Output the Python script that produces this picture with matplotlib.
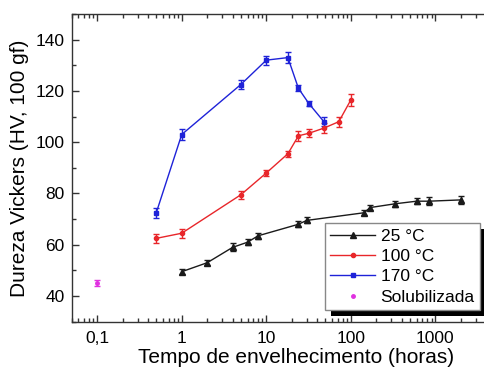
import matplotlib
matplotlib.use("Agg")
import matplotlib.pyplot as plt
from matplotlib.patches import Rectangle
from matplotlib.lines import Line2D
from matplotlib.ticker import LogLocator, FixedLocator, MultipleLocator

plt.rcParams['font.family'] = ['Liberation Sans', 'DejaVu Sans']

# Data
t25 = [1, 2, 4, 6, 8, 24, 30, 144, 168, 336, 600, 840, 2000]
v25 = [49.5, 53, 59, 61, 63.5, 68, 69.5, 72.5, 74.5, 76, 77, 77, 77.5]
e25 = [1.0, 1.0, 1.5, 1.2, 1.2, 1.2, 1.2, 1.0, 1.0, 1.2, 1.2, 1.5, 1.5]

t100 = [0.5, 1, 5, 10, 18, 24, 32, 48, 72, 100]
v100 = [62.5, 64.5, 79.5, 88, 95.5, 102.5, 103.5, 105.5, 108, 116.5]
e100 = [1.8, 1.8, 1.6, 1.2, 1.2, 2.0, 1.5, 2.0, 2.0, 2.2]

t170 = [0.5, 1, 5, 10, 18, 24, 32, 48]
v170 = [72.5, 103, 122.5, 132, 133, 121, 115, 108]
e170 = [2.0, 2.0, 1.8, 1.8, 2.2, 1.2, 1.0, 1.8]

t_sol = [0.1]
v_sol = [45]
e_sol = [1.2]

labels = ['25 °C', '100 °C', '170 °C', 'Solubilizada']
xticks = [0.1, 1, 10, 100, 1000]
xticklabels = ['0,1', '1', '10', '100', '1000']

W, H = 484, 369
fig = plt.figure(figsize=(W / 100, H / 100), dpi=100)
left_px, right_px, top_px, bot_px = 71.7, 520.0, 14.0, 321.7
ax = fig.add_axes([left_px / W, (H - bot_px) / H, (right_px - left_px) / W, (bot_px - top_px) / H])

c25, c100, c170, csol = '#1a1a1a', '#e8262a', '#1e22d8', '#e030e0'
m25, m100, m170, msol = '^', 'o', 's', 'o'
ms25, ms100, ms170, mssol = 4, 3, 3, 2.5
kw = dict(capsize=2.5, elinewidth=1.0, capthick=1.0, linewidth=1.0)
ax.errorbar(t25, v25, yerr=e25, color=c25, marker=m25, markersize=ms25, **kw)
ax.errorbar(t100, v100, yerr=e100, color=c100, marker=m100, markersize=ms100, **kw)
ax.errorbar(t170, v170, yerr=e170, color=c170, marker=m170, markersize=ms170, **kw)
ax.errorbar(t_sol, v_sol, yerr=e_sol, color=csol, marker=msol, markersize=mssol, linestyle='none', **kw)

ax.set_xscale('log')
ax.set_xlim(0.05, 10000)
ax.set_ylim(30, 150)
ax.xaxis.set_major_locator(FixedLocator(xticks))
ax.set_xticklabels(xticklabels)
ax.xaxis.set_minor_locator(LogLocator(base=10, subs=range(2, 10), numticks=20))
ax.yaxis.set_major_locator(MultipleLocator(20))
ax.yaxis.set_minor_locator(MultipleLocator(10))
ax.tick_params(which='both', direction='in', top=True, right=True, labelsize=12.5, width=1.0, color='#333333')
ax.tick_params(which='major', length=5)
ax.tick_params(which='minor', length=3)
ax.tick_params(axis='x', pad=7)
ax.tick_params(axis='y', pad=5)
for s in ax.spines.values():
    s.set_linewidth(1.0)
    s.set_color('#333333')

ax.set_xlabel('Tempo de envelhecimento (horas)', fontsize=15, labelpad=1)
ax.set_ylabel('Dureza Vickers (HV, 100 gf)', fontsize=15, labelpad=5)

handles = [
    Line2D([], [], color=c25, marker=m25, markersize=ms25, linewidth=1.0),
    Line2D([], [], color=c100, marker=m100, markersize=ms100, linewidth=1.0),
    Line2D([], [], color=c170, marker=m170, markersize=ms170, linewidth=1.0),
    Line2D([], [], color=csol, marker=msol, markersize=mssol, linestyle='none'),
]
leg = fig.legend(handles, labels, loc='lower right',
                 bbox_to_anchor=(480 / W, (H - 310) / H), bbox_transform=fig.transFigure,
                 fontsize=12.5, frameon=True, fancybox=False, framealpha=1,
                 edgecolor='#888888', handlelength=2.6, handletextpad=0.3,
                 labelspacing=0.3, borderpad=0.3, borderaxespad=0)
leg.get_frame().set_linewidth(1.0)
leg.set_zorder(10)

fig.canvas.draw()
bb = leg.get_window_extent()
inv = fig.transFigure.inverted()
(x0, y0), (x1, y1) = inv.transform([[bb.x0, bb.y0], [bb.x1, bb.y1]])
dx, dy = 6 / W, 6 / H
shadow = Rectangle((x0 + dx, y0 - dy), x1 - x0, y1 - y0, transform=fig.transFigure,
                   facecolor='black', edgecolor='none', zorder=9)
fig.add_artist(shadow)

fig.savefig('out.png', dpi=100)
